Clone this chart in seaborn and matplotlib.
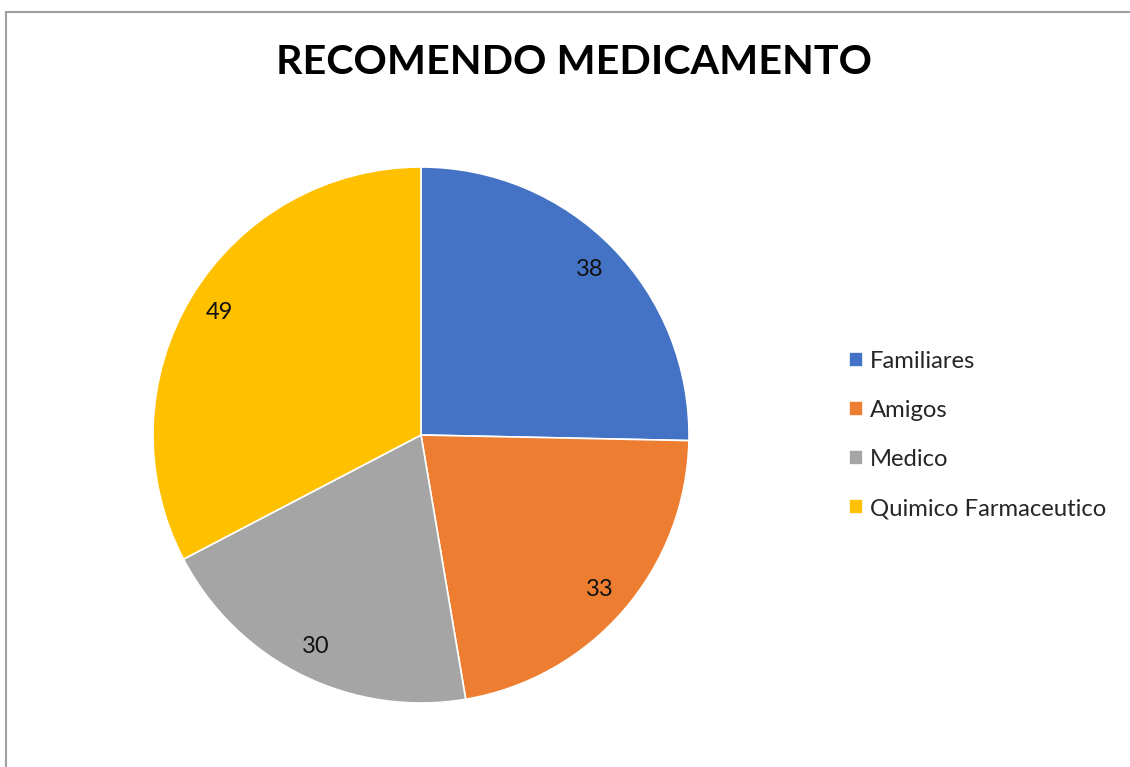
import matplotlib
matplotlib.use("Agg")
import matplotlib.pyplot as plt
import seaborn as sns
from matplotlib.patches import Rectangle

# Data
categories = ["Familiares", "Amigos", "Medico", "Quimico Farmaceutico"]
values = [38, 33, 30, 49]
colors = ["#4472C4", "#ED7D31", "#A5A5A5", "#FFC000"]

sns.set_theme(style="white")
plt.rcParams["font.family"] = ["Lato", "DejaVu Sans"]

palette = sns.color_palette(colors)
total = sum(values)

fig = plt.figure(figsize=(11.3, 7.67), dpi=100)
ax = fig.add_axes([153 / 1130, 64 / 767, 536 / 1130, 536 / 767])

wedges, texts, autotexts = ax.pie(
    values,
    colors=palette,
    startangle=90,
    counterclock=False,
    autopct=lambda p: f"{round(p * total / 100):d}",
    pctdistance=0.88,
    wedgeprops=dict(edgecolor="white", linewidth=1.2),
    textprops=dict(fontsize=17, color="#111111"),
)
ax.set_xlim(-1, 1)
ax.set_ylim(-1, 1)
ax.set_aspect("equal")
ax.axis("off")

fig.text(574 / 1130, 1 - 63 / 767, "RECOMENDO MEDICAMENTO",
         ha="center", va="center", fontsize=29.7, fontweight="bold", color="black")

fig.legend(wedges, categories, loc="center left",
           bbox_to_anchor=(827 / 1130, 1 - 435 / 767),
           frameon=False, fontsize=17.2, handlelength=0.6, handleheight=0.6,
           handletextpad=0.3, labelspacing=1.18)

# chart border
fig.add_artist(Rectangle((6 / 1130, -0.1), 1.2, (767 - 12) / 767 + 0.1,
                         transform=fig.transFigure, fill=False,
                         edgecolor="#a0a0a0", linewidth=1.5))

fig.savefig("out.png", dpi=100, facecolor="white")
